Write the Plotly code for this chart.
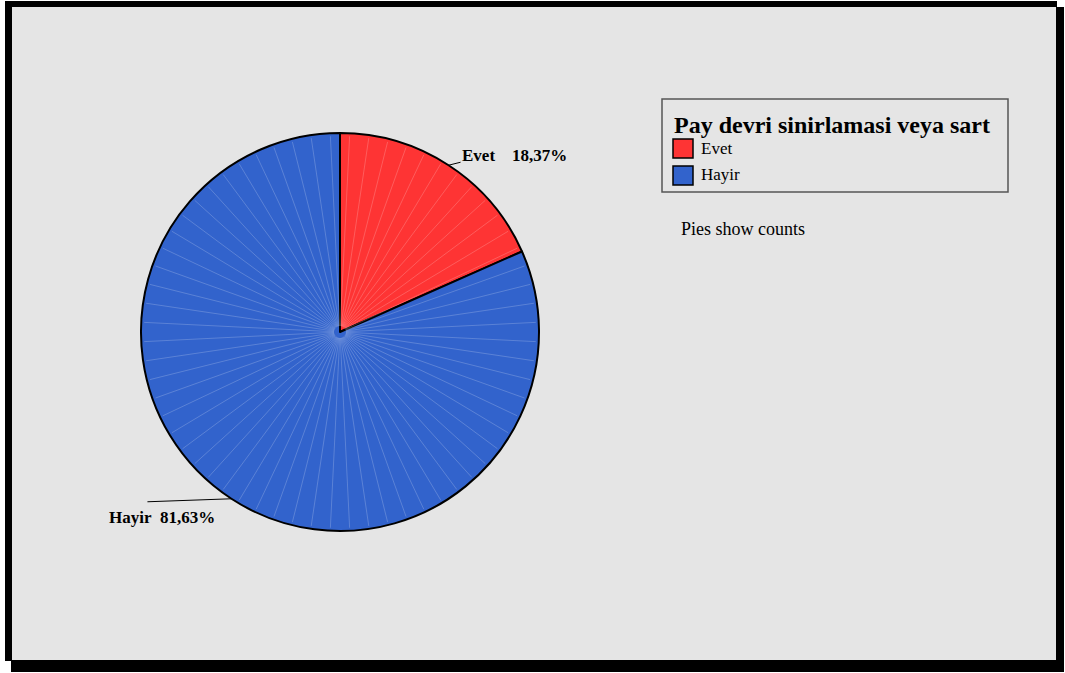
import math
import plotly.graph_objects as go

# Data
categories = ["Evet", "Hayir"]
percents = [18.37, 81.63]
slice_colors = ["#fe3434", "#3263cc"]
legend_title = "Pay devri sinirlamasi veya sart"
footnote = "Pies show counts"

W, H = 1065, 673
SERIF = "Liberation Serif, Times New Roman, serif"

# Pie geometry (pixels)
CX, CY, R = 340, 332, 199


def px(x):
    return x / W


def py(y):
    return 1 - y / H


fig = go.Figure()

fig.add_trace(go.Pie(
    labels=categories,
    values=percents,
    sort=False,
    direction="clockwise",
    rotation=0,
    textinfo="none",
    hoverinfo="label+percent",
    marker=dict(colors=slice_colors, line=dict(color="#000000", width=2)),
    domain=dict(x=[px(CX - R), px(CX + R)], y=[py(CY + R), py(CY - R)]),
    showlegend=False,
))

shapes = []
# Frame with drop shadow and grey panel
shapes.append(dict(type="rect", xref="paper", yref="paper",
                   x0=px(11), x1=px(1064), y0=py(672), y1=py(7),
                   fillcolor="#000000", line=dict(width=0), layer="below"))
shapes.append(dict(type="rect", xref="paper", yref="paper",
                   x0=px(5), x1=px(1057), y0=py(661), y1=py(1),
                   fillcolor="#000000", line=dict(width=0), layer="below"))
shapes.append(dict(type="rect", xref="paper", yref="paper",
                   x0=px(12), x1=px(1056), y0=py(660), y1=py(7),
                   fillcolor="#e5e5e5", line=dict(width=0), layer="below"))

# Faint radial rendering strokes across the pie
n_strokes = 64
for k in range(n_strokes):
    a = 2 * math.pi * (k + 0.5) / n_strokes
    shapes.append(dict(type="line", xref="paper", yref="paper",
                       x0=px(CX + 6 * math.sin(a)), y0=py(CY - 6 * math.cos(a)),
                       x1=px(CX + (R - 3) * math.sin(a)), y1=py(CY - (R - 3) * math.cos(a)),
                       line=dict(color="rgba(255,255,255,0.2)", width=1), layer="above"))

annotations = []

# Slice labels with leader lines from slice mid-angles
total = sum(percents)
start = 0.0
label_cfg = [
    dict(dx=12, dy=-3, tx=11, ty=-10, anchor="left"),
    dict(dx=-84, dy=3, tx=-69, ty=19, anchor="center"),
]
for name, val, cfg in zip(categories, percents, label_cfg):
    sweep = 360 * val / total
    mid = math.radians(start + sweep / 2)
    start += sweep
    ex, ey = CX + R * math.sin(mid), CY - R * math.cos(mid)
    shapes.append(dict(type="line", xref="paper", yref="paper",
                       x0=px(ex), y0=py(ey), x1=px(ex + cfg["dx"]), y1=py(ey + cfg["dy"]),
                       line=dict(color="#000000", width=1), layer="above"))
    gap = "&nbsp;&nbsp;&nbsp;&nbsp;" if cfg["anchor"] == "left" else "&nbsp;&nbsp;"
    annotations.append(dict(
        xref="paper", yref="paper",
        x=px(ex + cfg["tx"]), y=py(ey + cfg["ty"]),
        xanchor=cfg["anchor"], yanchor="middle", showarrow=False,
        text=f"<b>{name}{gap}{val:.2f}%</b>".replace(".", ","),
        font=dict(family=SERIF, size=17, color="#000000"),
    ))

# Legend box
shapes.append(dict(type="rect", xref="paper", yref="paper",
                   x0=px(662), x1=px(1008), y0=py(192), y1=py(99),
                   fillcolor="rgba(0,0,0,0)", line=dict(color="#555555", width=1.5)))
annotations.append(dict(xref="paper", yref="paper", x=px(672), y=py(125),
                        xanchor="left", yanchor="middle", showarrow=False,
                        text=f"<b>{legend_title}</b>",
                        font=dict(family=SERIF, size=24, color="#000000")))
for i, (name, col) in enumerate(zip(categories, slice_colors)):
    top = 139 + i * 27
    shapes.append(dict(type="rect", xref="paper", yref="paper",
                       x0=px(673), x1=px(693), y0=py(top + 19), y1=py(top),
                       fillcolor=col, line=dict(color="#000000", width=1.5)))
    annotations.append(dict(xref="paper", yref="paper", x=px(699), y=py(top + 9),
                            xanchor="left", yanchor="middle", showarrow=False,
                            text=name, font=dict(family=SERIF, size=17, color="#000000")))

annotations.append(dict(xref="paper", yref="paper", x=px(679), y=py(229),
                        xanchor="left", yanchor="middle", showarrow=False,
                        text=footnote, font=dict(family=SERIF, size=18, color="#000000")))

fig.update_layout(
    width=W, height=H,
    margin=dict(l=0, r=0, t=0, b=0),
    paper_bgcolor="#ffffff",
    plot_bgcolor="#ffffff",
    shapes=shapes,
    annotations=annotations,
    showlegend=False,
)

fig.write_html("out.html", config={"displayModeBar": False})
